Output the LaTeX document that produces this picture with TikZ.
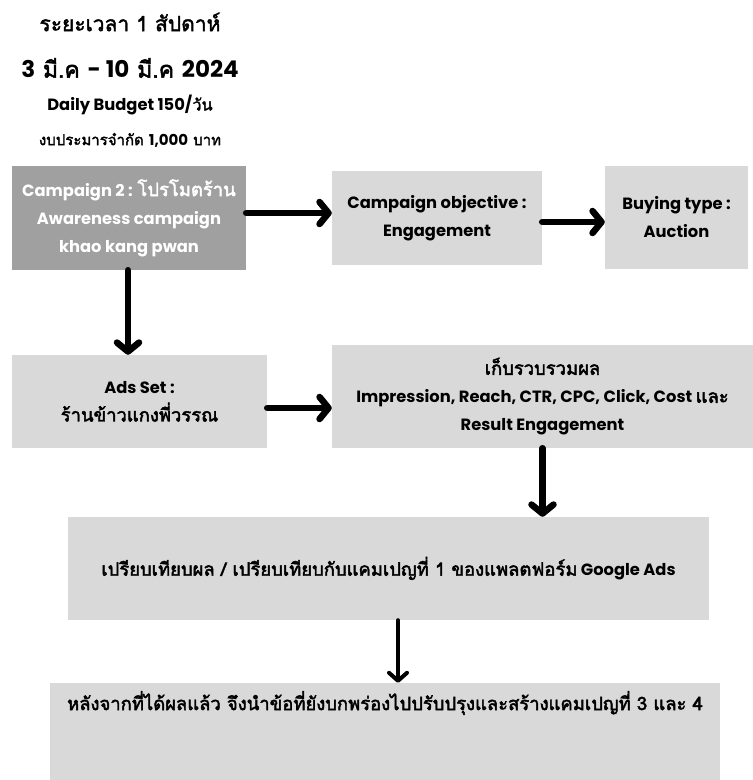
\documentclass[tikz,border=0pt]{standalone}
\usepackage{fontspec}
\setmainfont{Poppins}
\newfontfamily\thaif[Script=Thai,Scale=1.13,AutoFakeBold=2.5]{Loma}
\newfontfamily\thaiT[Script=Thai,AutoFakeBold=2]{Loma}
\usetikzlibrary{arrows.meta}
\definecolor{boxgray}{HTML}{D9D9D9}
\definecolor{darkbox}{HTML}{A0A0A0}
\begin{document}
\begin{tikzpicture}[x=1pt,y=-1pt,
  box/.style={fill=boxgray, draw=none, align=center, inner sep=0pt,
    font=\bfseries\fontsize{16.3}{28}\selectfont},
  arr/.style={line width=6.5pt, line cap=round,
    -{Straight Barb[length=9pt,width=22pt,line cap=round,line join=round]}},
  thinarr/.style={line width=4pt, line cap=round,
    -{Straight Barb[length=8pt,width=18pt,line cap=round,line join=round]}},
  ttlbig/.style={font=\thaiT\bfseries\fontsize{21}{24}\selectfont},
  ttlsmall/.style={font=\thaiT\bfseries\fontsize{15}{18}\selectfont}]
\useasboundingbox[fill=white] (0,0) rectangle (753,780);

% titles
\node[ttlbig]   (t1) at (130,22)  {ระยะเวลา 1 สัปดาห์};
\node[ttlbig, font=\thaiT\bfseries\fontsize{23}{26}\selectfont]
  (t2) at (130,68)  {{\rmfamily 3} มี.ค {\rmfamily - 10} มี.ค {\rmfamily 2024}};
\node[ttlsmall, font=\thaiT\bfseries\fontsize{16.3}{18}\selectfont]
  (t3) at (130,105) {{\rmfamily Daily Budget 150/}วัน};
\node[ttlsmall] (t4) at (130,140) {งบประมารจำกัด {\rmfamily 1,000} บาท};

% boxes
\node[box, fill=darkbox, text=white, minimum width=234pt, minimum height=104pt]
  (b1) at (129,218) {Campaign 2 : {\thaif โปรโมตร้าน}\\Awareness campaign\\khao kang pwan};
\node[box, minimum width=210pt, minimum height=94pt]
  (b2) at (437,218) {Campaign objective :\\Engagement};
\node[box, minimum width=143pt, minimum height=103pt]
  (b3) at (676.5,217.5) {Buying type :\\Auction};
\node[box, minimum width=255pt, minimum height=93pt]
  (b4) at (139.5,401.5) {Ads Set :\\{\thaif ร้านข้าวแกงพี่วรรณ}};
\node[box, minimum width=421pt, minimum height=103pt]
  (b5) at (542.5,396.5) {{\thaif เก็บรวบรวมผล}\\Impression, Reach, CTR, CPC, Click, Cost {\thaif และ}\\Result Engagement};
\node[box, minimum width=641pt, minimum height=103pt]
  (b6) at (388.5,568.5) {{\thaif เปรียบเทียบผล / เปรียบเทียบกับแคมเปญที่ 1 ของแพลตฟอร์ม} Google Ads};
\node[box, minimum width=670pt, minimum height=97pt]
  (b7) at (385,731.5) {};
\node[box, fill=none] (t7) at (385,703)
  {{\thaif หลังจากที่ได้ผลแล้ว จึงนำข้อที่ยังบกพร่องไปปรับปรุงและสร้างแคมเปญที่ 3 และ 4}};

% connectors
\draw[arr] ([yshift=5pt]b1.east) -- ([yshift=5pt]b1.east -| b2.west);
\draw[arr] ([yshift=-4pt]b2.east) -- ([yshift=-4pt]b2.east -| b3.west);
\draw[arr] ([xshift=-1pt]b1.south) -- ([xshift=-1pt]b1.south |- b4.north);
\draw[arr] ([yshift=-6.5pt]b4.east) -- ([yshift=-6.5pt]b4.east -| b5.west);
\draw[arr] (b5.south) -- (b5.south |- b6.north);
\draw[thinarr] ([xshift=9.5pt]b6.south) -- ([xshift=9.5pt]b6.south |- b7.north);
\end{tikzpicture}
\end{document}
